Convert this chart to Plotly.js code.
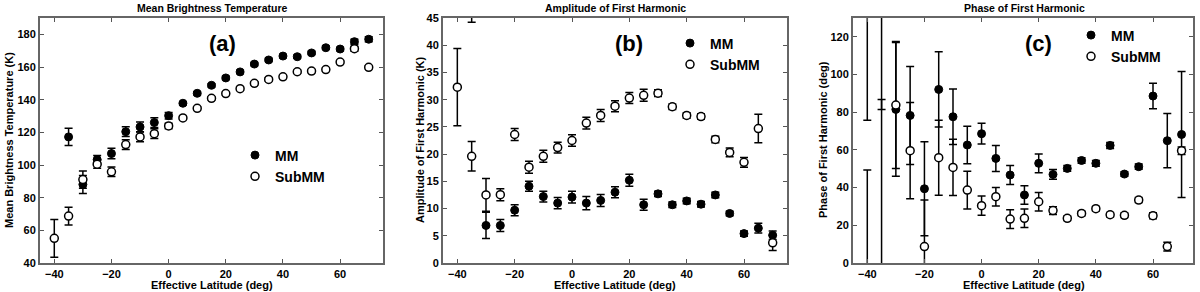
<!DOCTYPE html>
<html>
<head>
<meta charset="utf-8">
<script src="https://cdn.plot.ly/plotly-3.0.1.min.js"></script>
<style>html,body{margin:0;padding:0;background:#fff;}#chart{width:1200px;height:292px;}</style>
</head>
<body>
<div id="chart"></div>
<script>
// ---------- Data ----------
// Panel (a): Mean Brightness Temperature (K)
const latA_MM   = [-35, -30, -25, -20, -15, -10, -5, 0, 5, 10, 15, 20, 25, 30, 35, 40, 45, 50, 55, 60, 65, 70];
const tempMM    = [117.2, 88.1, 103.3, 107.0, 120.4, 123.3, 126.0, 130.2, 137.8, 143.9, 148.8, 153.3, 157.0, 161.8, 164.3, 166.7, 166.3, 168.6, 171.8, 171.0, 175.5, 177.0];
const tempMMErr = [5.3, 5.5, 2.5, 3.2, 3.0, 3.0, 3.0, 2.0, 1.0, 1.0, 1.0, 1.0, 1.0, 1.0, 1.0, 1.0, 1.0, 1.0, 1.0, 1.0, 1.5, 1.5];
const latA_Sub  = [-40, -35, -30, -25, -20, -15, -10, -5, 0, 5, 10, 15, 20, 25, 30, 35, 40, 45, 50, 55, 60, 65, 70];
const tempSub   = [55.1, 68.7, 91.1, 100.5, 95.8, 112.5, 117.2, 119.2, 123.9, 128.8, 134.7, 140.8, 143.7, 146.7, 150.0, 152.4, 154.0, 157.1, 157.5, 158.4, 163.0, 171.2, 159.8];
const tempSubErr= [11.6, 5.5, 5.3, 2.5, 2.9, 3.0, 3.0, 3.0, 1.7, 1.0, 1.0, 1.0, 1.0, 1.0, 1.0, 1.0, 1.0, 1.0, 1.0, 1.0, 1.0, 1.5, 1.0];

// Panel (b): Amplitude of First Harmonic (K)
const latB_MM   = [-35, -30, -25, -20, -15, -10, -5, 0, 5, 10, 15, 20, 25, 30, 35, 40, 45, 50, 55, 60, 65, 70];
const ampMM     = [48.0, 6.9, 6.9, 9.7, 14.1, 12.2, 11.0, 12.1, 11.0, 11.5, 13.0, 15.2, 10.7, 12.7, 10.7, 11.4, 10.8, 12.5, 9.1, 5.4, 6.4, 5.1];
const ampMMErr  = [3.8, 2.4, 1.1, 1.0, 0.9, 1.0, 1.05, 1.1, 1.2, 1.1, 1.0, 1.1, 1.0, 0.5, 0.5, 0.5, 0.5, 0.5, 0.4, 0.5, 0.9, 0.8];
const latB_Sub  = [-40, -35, -30, -25, -20, -15, -10, -5, 0, 5, 10, 15, 20, 25, 30, 35, 40, 45, 50, 55, 60, 65, 70];
const ampSub    = [32.3, 19.6, 12.5, 12.55, 23.6, 17.6, 19.6, 21.2, 22.5, 25.7, 27.1, 28.8, 30.3, 30.8, 31.2, 28.7, 27.1, 26.9, 22.7, 20.3, 18.5, 24.7, 3.7];
const ampSubErr = [7.1, 2.7, 3.0, 1.1, 1.1, 1.1, 1.1, 1.0, 1.05, 1.07, 1.1, 1.0, 1.0, 1.1, 0.6, 0.5, 0.5, 0.5, 0.6, 0.8, 0.9, 2.6, 1.4];

// Panel (c): Phase of First Harmonic (deg)
const latC      = [-40, -35, -30, -25, -20, -15, -10, -5, 0, 5, 10, 15, 20, 25, 30, 35, 40, 45, 50, 55, 60, 65, 70];
const phaseMM   = [140.0, 140.0, 81.5, 78.3, 39.4, 92.1, 77.6, 62.6, 68.6, 55.5, 46.7, 36.1, 52.9, 47.0, 50.2, 54.4, 52.9, 62.4, 47.2, 51.1, 88.6, 64.9, 68.2];
const phaseMMErr= [64.2, 58.5, 35.5, 26.0, 24.9, 20.0, 14.7, 10.0, 5.5, 6.9, 5.1, 4.9, 5.0, 2.6, 1.5, 1.5, 1.5, 1.6, 1.2, 1.4, 6.8, 14.4, 33.4];
const phaseSub  = [-10.0, -10.0, 83.8, 59.6, 8.7, 55.9, 50.7, 38.7, 30.4, 35.2, 23.3, 23.7, 32.5, 27.8, 23.7, 26.3, 28.8, 25.6, 25.3, 33.4, 25.1, 8.7, 59.6];
const phaseSubErr=[59.3, 96.8, 33.7, 25.5, 24.7, 19.9, 14.9, 10.0, 5.1, 4.9, 5.0, 4.9, 4.9, 2.0, 1.2, 1.2, 1.2, 1.2, 1.2, 1.3, 1.6, 2.3, 2.0];

// Labels
const panelTitles = ['Mean Brightness Temperature', 'Amplitude of First Harmonic', 'Phase of First Harmonic'];
const yTitles = ['Mean Brightness Temperature (K)', 'Amplitude of First Harmonic (K)', 'Phase of First Harmonic (deg)'];
const xTitle = 'Effective Latitude (deg)';
const panelLetters = ['(a)', '(b)', '(c)'];
const seriesNames = ['MM', 'SubMM'];

// ---------- Styling helpers ----------
const FONT = 'Liberation Sans, Arial, Helvetica, sans-serif';
const W = 1200, H = 292;
const px = x => x / W;
const py = y => 1 - y / H;
const yDom = [py(263), py(18)];
const xDoms = [[px(40), px(383)], [px(443), px(787)], [px(853), px(1193)]];

function mmTrace(x, y, e, xa, ya, lg) {
  return {
    type: 'scatter', mode: 'markers', name: seriesNames[0], x: x, y: y,
    xaxis: xa, yaxis: ya, legend: lg, cliponaxis: true,
    marker: {symbol: 'circle', size: 8, color: '#000', line: {color: '#000', width: 1}},
    error_y: {type: 'data', array: e, visible: true, color: '#000', thickness: 1.5, width: 4}
  };
}
function subTrace(x, y, e, xa, ya, lg) {
  return {
    type: 'scatter', mode: 'markers', name: seriesNames[1], x: x, y: y,
    xaxis: xa, yaxis: ya, legend: lg, cliponaxis: true,
    marker: {symbol: 'circle', size: 8, color: '#fff', line: {color: '#000', width: 1.5}},
    error_y: {type: 'data', array: e, visible: true, color: '#000', thickness: 1.5, width: 4}
  };
}

const traces = [
  mmTrace(latA_MM, tempMM, tempMMErr, 'x', 'y', 'legend'),
  subTrace(latA_Sub, tempSub, tempSubErr, 'x', 'y', 'legend'),
  mmTrace(latB_MM, ampMM, ampMMErr, 'x2', 'y2', 'legend2'),
  subTrace(latB_Sub, ampSub, ampSubErr, 'x2', 'y2', 'legend2'),
  mmTrace(latC, phaseMM, phaseMMErr, 'x3', 'y3', 'legend3'),
  subTrace(latC, phaseSub, phaseSubErr, 'x3', 'y3', 'legend3')
];

const tickFont = {family: FONT, size: 11, color: '#000', weight: 'bold'};
function xAxis(dom, anchor, range) {
  return {
    domain: dom, anchor: anchor, range: range, tickmode: 'linear', tick0: -40, dtick: 20,
    ticks: 'inside', ticklen: 4, tickwidth: 1, tickcolor: '#555',
    showline: true, linecolor: '#666', linewidth: 2, mirror: 'ticks',
    showgrid: false, zeroline: false, tickfont: tickFont, ticklabelstandoff: 0
  };
}
function yAxis(anchor, range, dtick) {
  return {
    domain: yDom, anchor: anchor, range: range, tickmode: 'linear', tick0: 0, dtick: dtick,
    ticks: 'inside', ticklen: 4, tickwidth: 1, tickcolor: '#555',
    showline: true, linecolor: '#666', linewidth: 2, mirror: 'ticks',
    showgrid: false, zeroline: false, tickfont: tickFont
  };
}

const annotations = [];
const centersX = [212, 615, 1024];
const yTitleX = [9, 420, 823];
const letterX = [222, 629, 1038];
for (let i = 0; i < 3; i++) {
  annotations.push({xref: 'paper', yref: 'paper', x: px(centersX[i]), y: py(8), text: panelTitles[i],
    showarrow: false, xanchor: 'center', yanchor: 'middle', font: {family: FONT, size: 10.5, color: '#000', weight: 'bold'}});
  annotations.push({xref: 'paper', yref: 'paper', x: px(centersX[i]), y: py(285), text: xTitle,
    showarrow: false, xanchor: 'center', yanchor: 'middle', font: {family: FONT, size: 11, color: '#000', weight: 'bold'}});
  annotations.push({xref: 'paper', yref: 'paper', x: px(yTitleX[i]), y: py(140), text: yTitles[i], textangle: -90,
    showarrow: false, xanchor: 'center', yanchor: 'middle', font: {family: FONT, size: 11, color: '#000', weight: 'bold'}});
  annotations.push({xref: 'paper', yref: 'paper', x: px(letterX[i]), y: py(43), text: panelLetters[i],
    showarrow: false, xanchor: 'center', yanchor: 'middle', font: {family: FONT, size: 22, color: '#000', weight: 'bold'}});
}

function legendAt(xLeft, yMid) {
  return {x: px(xLeft), y: py(yMid), xanchor: 'left', yanchor: 'middle', xref: 'paper', yref: 'paper',
    bgcolor: 'rgba(0,0,0,0)', borderwidth: 0, tracegroupgap: 0, itemwidth: 30,
    font: {family: FONT, size: 14, color: '#000', weight: 'bold'}};
}

const layout = {
  width: W, height: H, margin: {l: 0, r: 0, t: 0, b: 0},
  paper_bgcolor: '#fff', plot_bgcolor: '#fff', showlegend: true,
  xaxis: xAxis(xDoms[0], 'y', [-45, 75]),
  yaxis: yAxis('x', [40, 190], 20),
  xaxis2: xAxis(xDoms[1], 'y2', [-45, 75]),
  yaxis2: yAxis('x2', [0, 45], 5),
  xaxis3: xAxis(xDoms[2], 'y3', [-45, 74]),
  yaxis3: yAxis('x3', [0, 130], 20),
  legend: legendAt(235, 166),
  legend2: legendAt(670, 54),
  legend3: legendAt(1071, 46),
  annotations: annotations
};

Plotly.newPlot('chart', traces, layout, {staticPlot: true, displayModeBar: false});
</script>
</body>
</html>
